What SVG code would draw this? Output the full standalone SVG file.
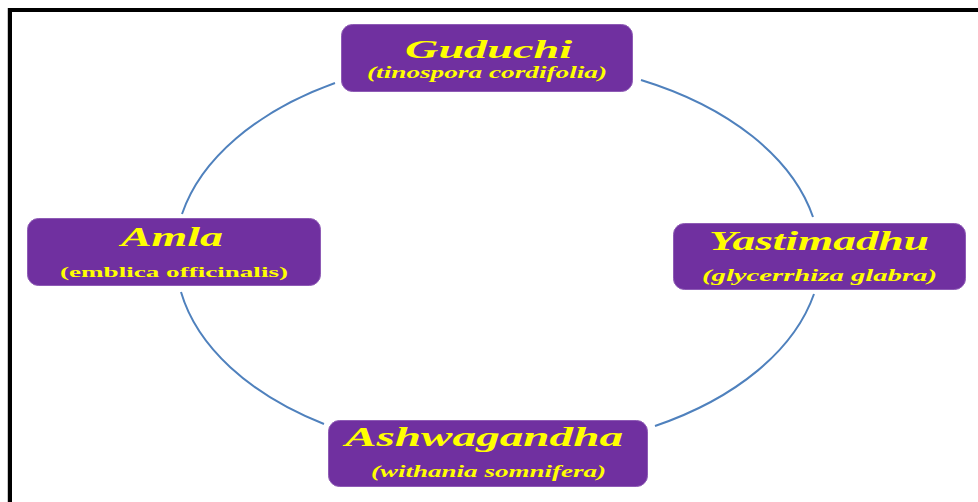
<svg xmlns="http://www.w3.org/2000/svg" width="978" height="502" viewBox="0 0 978 502">
<style>
.box{fill:#7030A0;stroke:#8E5BB5;stroke-width:1}
.t{fill:#FFFF00;font-family:"Liberation Serif","Times New Roman",serif;font-weight:bold;font-style:italic;text-anchor:start}
.s{fill:#FFFF00;font-family:"Liberation Serif","Times New Roman",serif;font-weight:bold;font-style:italic}
.arc{fill:none;stroke:#4F81BD;stroke-width:2}
</style>
<rect x="0" y="0" width="978" height="502" fill="#FFFFFF"/>
<line x1="7.5" y1="8" x2="7.5" y2="502" stroke="#C8C8C8" stroke-width="1"/>
<path d="M10 502 L10 10 L978 10" fill="none" stroke="#000" stroke-width="4"/>
<g id="connectors">
<path class="arc" d="M335 83 A322 199 0 0 0 182 214"/>
<path class="arc" d="M641 80 A322 199 0 0 1 813 217"/>
<path class="arc" d="M181 292 A322 199 0 0 0 324 424"/>
<path class="arc" d="M814 294 A322 199 0 0 1 655 426"/>
</g>
<g id="guduchi">
<rect class="box" x="341.5" y="24.5" width="291" height="67" rx="11"/>
<text class="t" x="405" y="58" font-size="25" textLength="167" lengthAdjust="spacingAndGlyphs">Guduchi</text>
<text class="s" x="367" y="78" font-size="16" textLength="240" lengthAdjust="spacingAndGlyphs">(tinospora cordifolia)</text>
</g>
<g id="amla">
<rect class="box" x="27.5" y="218.5" width="293" height="67" rx="11"/>
<text class="t" x="121" y="246" font-size="27" textLength="102" lengthAdjust="spacingAndGlyphs">Amla</text>
<text class="s" x="60" y="277" font-size="15" font-style="normal" style="font-style:normal" textLength="228" lengthAdjust="spacingAndGlyphs">(emblica officinalis)</text>
</g>
<g id="yastimadhu">
<rect class="box" x="673.5" y="223.5" width="292" height="66" rx="11"/>
<text class="t" x="709" y="250" font-size="27" textLength="220" lengthAdjust="spacingAndGlyphs">Yastimadhu</text>
<text class="s" x="702" y="281" font-size="16" textLength="235" lengthAdjust="spacingAndGlyphs">(glycerrhiza glabra)</text>
</g>
<g id="ashwagandha">
<rect class="box" x="328.5" y="420.5" width="319" height="66" rx="11"/>
<text class="t" x="345" y="446" font-size="27" textLength="278" lengthAdjust="spacingAndGlyphs">Ashwagandha</text>
<text class="s" x="371" y="477" font-size="16" textLength="235" lengthAdjust="spacingAndGlyphs">(withania somnifera)</text>
</g>
</svg>
